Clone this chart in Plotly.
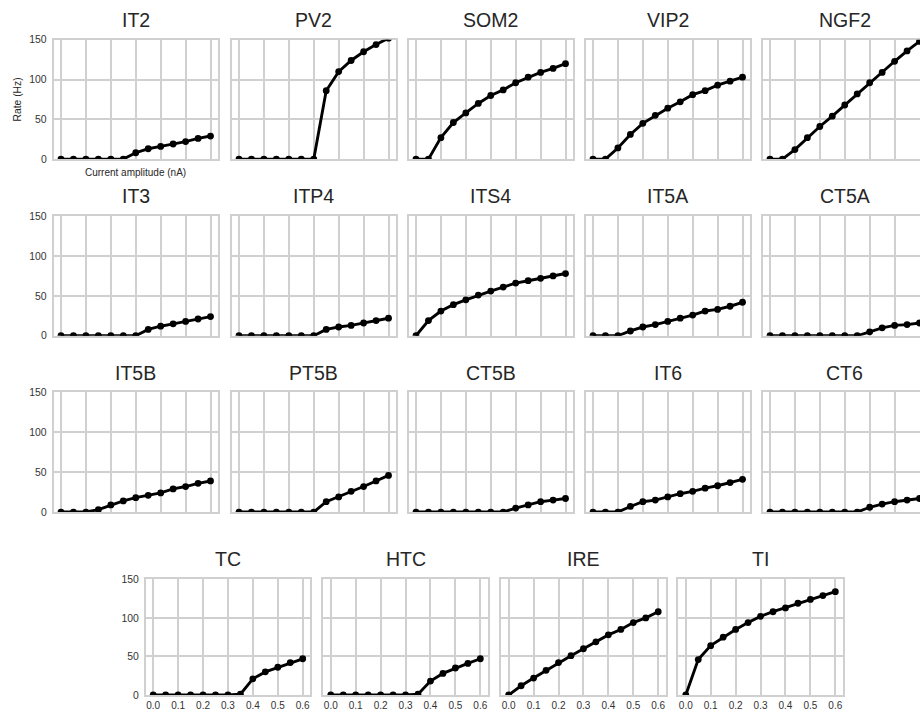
import plotly.graph_objects as go

# ---------------- data ----------------
CURRENT = [0.0, 0.05, 0.1, 0.15, 0.2, 0.25, 0.3, 0.35, 0.4, 0.45, 0.5, 0.55, 0.6]

X_TICKS = [0.0, 0.1, 0.2, 0.3, 0.4, 0.5, 0.6]
X_TICK_LABELS = ["0.0", "0.1", "0.2", "0.3", "0.4", "0.5", "0.6"]
Y_TICKS = [0, 50, 100, 150]
Y_TICK_LABELS = ["0", "50", "100", "150"]

CELL_TYPES = ["IT2", "PV2", "SOM2", "VIP2", "NGF2",
              "IT3", "ITP4", "ITS4", "IT5A", "CT5A",
              "IT5B", "PT5B", "CT5B", "IT6", "CT6",
              "TC", "HTC", "IRE", "TI"]

IT2 = [0, 0, 0, 0, 0, 0, 8, 13, 16, 19, 22, 26, 29]
PV2 = [0, 0, 0, 0, 0, 0, 0, 86, 110, 124, 135, 144, 152]
SOM2 = [0, 0, 27, 46, 58, 70, 80, 87, 96, 103, 109, 114, 120]
VIP2 = [0, 0, 14, 31, 45, 55, 64, 72, 81, 86, 93, 98, 103]
NGF2 = [0, 0, 12, 27, 41, 54, 68, 82, 96, 109, 123, 136, 148]
IT3 = [0, 0, 0, 0, 0, 0, 0, 8, 12, 15, 18, 21, 24]
ITP4 = [0, 0, 0, 0, 0, 0, 0, 8, 11, 13, 16, 19, 22]
ITS4 = [0, 19, 31, 39, 45, 51, 56, 61, 66, 69, 72, 75, 78]
IT5A = [0, 0, 0, 6, 11, 14, 18, 22, 26, 31, 33, 37, 42]
CT5A = [0, 0, 0, 0, 0, 0, 0, 0, 5, 10, 13, 14, 16]
IT5B = [0, 0, 0, 3, 9, 14, 18, 21, 24, 29, 32, 36, 39]
PT5B = [0, 0, 0, 0, 0, 0, 0, 13, 19, 26, 32, 39, 46]
CT5B = [0, 0, 0, 0, 0, 0, 0, 0, 5, 9, 13, 15, 17]
IT6 = [0, 0, 0, 7, 13, 15, 19, 23, 26, 30, 33, 37, 41]
CT6 = [0, 0, 0, 0, 0, 0, 0, 0, 6, 10, 13, 15, 17]
TC = [0, 0, 0, 0, 0, 0, 0, 1, 21, 30, 36, 42, 47]
HTC = [0, 0, 0, 0, 0, 0, 0, 1, 18, 28, 35, 41, 47]
IRE = [0, 12, 22, 32, 42, 51, 60, 69, 78, 85, 94, 100, 108]
TI = [0, 46, 64, 75, 85, 94, 102, 108, 113, 119, 124, 129, 134]

RATES = [IT2, PV2, SOM2, VIP2, NGF2, IT3, ITP4, ITS4, IT5A, CT5A,
         IT5B, PT5B, CT5B, IT6, CT6, TC, HTC, IRE, TI]

# ---------------- layout (pixels) ----------------
W, H = 920, 711
VK = 711.0 / 718.0          # vertical compensation of the page capture
AX_W = 164.5
ROW_LEFTS = [[53.5, 231.5, 408.5, 585.5, 762.5]] * 3 + [[145.7, 323.3, 501.2, 678.3]]
ROW_TB = [(35, 155), (212.3, 332.7), (389.7, 510), (577.7, 694)]
X_RANGE = [-0.03, 0.63]

GRID = "#d0d0d0"
TXT = "#262626"
TICK_TXT = "#333333"
FONT = "Liberation Sans, Arial, sans-serif"


def py(t):
    """target image row (px from top) -> paper y fraction"""
    return 1 - (t / VK) / H


fig = go.Figure()
layout = {}
annotations = []

idx = 0
for r, lefts in enumerate(ROW_LEFTS):
    top, bot = ROW_TB[r]
    for c, left in enumerate(lefts):
        n = idx + 1
        sfx = "" if n == 1 else str(n)
        name = CELL_TYPES[idx]
        right = left + AX_W
        xr = list(X_RANGE)
        clipped = right > W
        if clipped:
            xr[1] = X_RANGE[0] + (X_RANGE[1] - X_RANGE[0]) * (W - left) / AX_W
            right = W
        xd = [left / W, right / W]
        yd = [py(bot), py(top)]
        bottom_row = (r == 3)
        first_col = (c == 0)
        layout["xaxis" + sfx] = dict(
            domain=xd, range=xr, anchor="y" + sfx,
            tickvals=X_TICKS, ticktext=X_TICK_LABELS,
            showticklabels=bottom_row, ticks="",
            showgrid=True, gridcolor=GRID, gridwidth=1.5,
            zeroline=False, showline=True, linecolor=GRID, linewidth=1.5,
            mirror=True, layer="below traces",
            tickfont=dict(family=FONT, size=10, color=TICK_TXT),
            fixedrange=True,
        )
        layout["yaxis" + sfx] = dict(
            domain=yd, range=[0, 150], anchor="x" + sfx,
            tickvals=Y_TICKS, ticktext=Y_TICK_LABELS,
            showticklabels=first_col, ticks="",
            showgrid=True, gridcolor=GRID, gridwidth=1.5,
            zeroline=False, showline=True, linecolor=GRID, linewidth=1.5,
            mirror=(not clipped), layer="below traces",
            tickfont=dict(family=FONT, size=10.4, color=TICK_TXT),
            ticklabelstandoff=3,
            fixedrange=True,
        )
        fig.add_trace(go.Scatter(
            x=CURRENT, y=RATES[idx], mode="lines+markers",
            line=dict(color="black", width=2.9),
            marker=dict(color="black", size=6.8),
            xaxis="x" + sfx, yaxis="y" + sfx,
            showlegend=False, cliponaxis=True, hoverinfo="skip",
        ))
        cx = left + AX_W / 2
        annotations.append(dict(
            text=name, x=cx / W, y=py(top - 20), xref="paper", yref="paper",
            xanchor="center", yanchor="middle", showarrow=False,
            font=dict(family=FONT, size=19.5, color=TXT),
        ))
        idx += 1

annotations.append(dict(
    text="Rate (Hz)", x=17 / W, y=py(95), xref="paper", yref="paper",
    xanchor="center", yanchor="middle", showarrow=False, textangle=-90,
    font=dict(family=FONT, size=10.3, color=TXT),
))
annotations.append(dict(
    text="Current amplitude (nA)", x=(53.5 + AX_W / 2) / W, y=py(168),
    xref="paper", yref="paper", xanchor="center", yanchor="middle", showarrow=False,
    font=dict(family=FONT, size=10, color=TXT),
))

fig.update_layout(
    width=W, height=H, autosize=False,
    margin=dict(l=0, r=0, t=0, b=0),
    paper_bgcolor="white", plot_bgcolor="white",
    annotations=annotations, showlegend=False,
    **layout,
)

PAGE_FIX = (
    "var s=document.documentElement.style;s.margin='0';s.padding='0';s.overflow='hidden';"
    "var b=document.body.style;b.margin='0';b.padding='0';b.overflow='hidden';"
)

fig.write_html("out.html", config={"displayModeBar": False}, post_script=PAGE_FIX)
